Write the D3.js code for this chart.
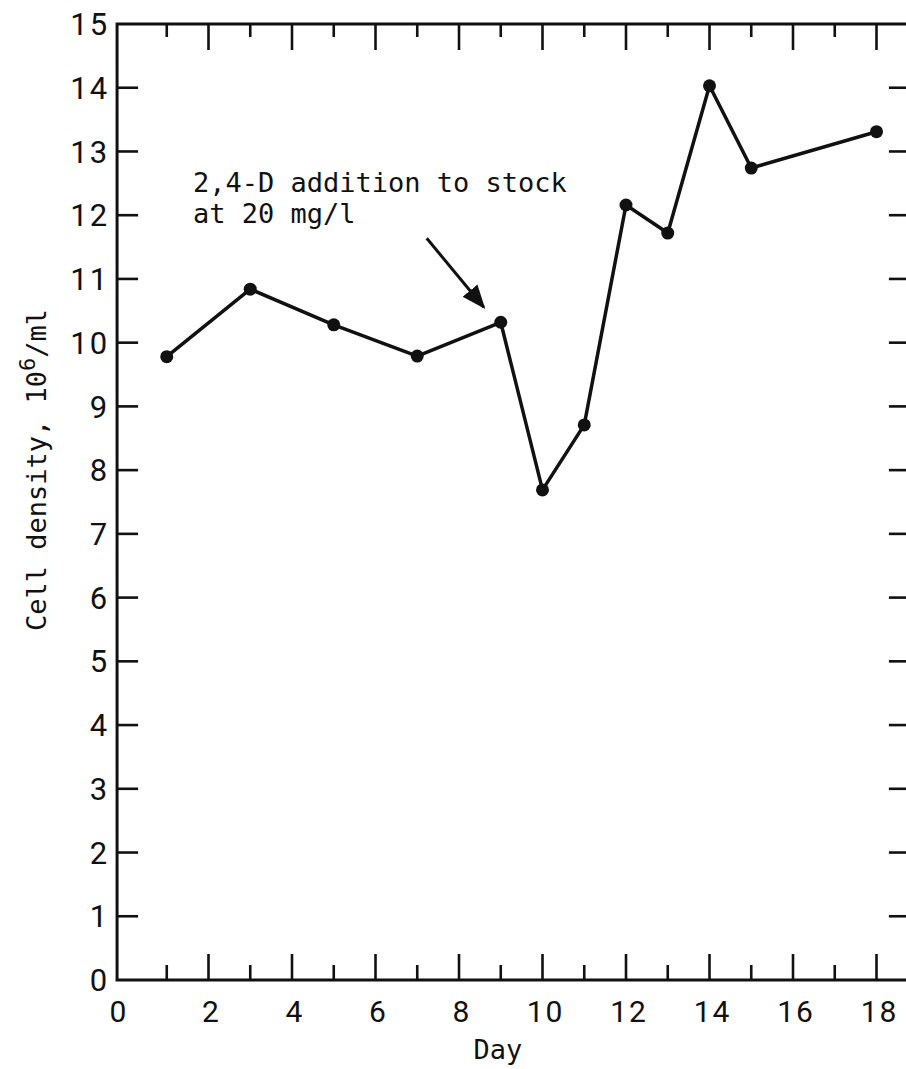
<!DOCTYPE html>
<html>
<head>
<meta charset="utf-8">
<script src="https://cdn.jsdelivr.net/npm/d3@7"></script>
<style>
  html, body { margin: 0; padding: 0; background: #fff; }
  svg { display: block; }
  .tick-label { font-family: Roboto, "Noto Sans", sans-serif; font-weight: 400; fill: #111; letter-spacing: 2px; }
  .mono { font-family: "DejaVu Sans Mono", "Liberation Mono", monospace; fill: #111; }
</style>
</head>
<body>
<script>
// data
const days = [1, 3, 5, 7, 9, 10, 11, 12, 13, 14, 15, 18]
const density = [9.78, 10.84, 10.28, 9.79, 10.32, 7.69, 8.71, 12.16, 11.72, 14.03, 12.74, 13.31]
const xTickValues = [0, 2, 4, 6, 8, 10, 12, 14, 16, 18]
const yTickValues = [0, 1, 2, 3, 4, 5, 6, 7, 8, 9, 10, 11, 12, 13, 14, 15]
const noteLines = ['2,4-D addition to stock', 'at 20 mg/l']
const noteDay = 9

const W = 906, H = 1069
const svg = d3.select('body').append('svg').attr('width', W).attr('height', H)

const x = d3.scaleLinear().domain([0, 19]).range([125, 125 + 19 * 41.75])
const y = d3.scaleLinear().domain([0, 15]).range([980, 24])

const frameL = x(-0.19), frameR = x(18.8), frameT = y(15), frameB = y(0)
const ink = '#111'

// frame
svg.append('path')
    .attr('d', `M${frameR},${frameT} H${frameL} V${frameB} H${frameR}`)
    .attr('fill', 'none')
    .attr('stroke', ink)
    .attr('stroke-width', 3)

// ticks: every day, long for even, short for odd
let dayTicks = d3.range(1, 19)
let g = svg.append('g').attr('stroke', ink).attr('stroke-width', 2.6)
g.selectAll('line.top')
  .data(dayTicks)
  .join('line')
    .attr('class', 'top')
    .attr('x1', d => x(d)).attr('x2', d => x(d))
    .attr('y1', frameT).attr('y2', d => frameT + (d % 2 === 0 ? 26 : 13))
g.selectAll('line.bottom')
  .data(dayTicks)
  .join('line')
    .attr('class', 'bottom')
    .attr('x1', d => x(d)).attr('x2', d => x(d))
    .attr('y1', frameB).attr('y2', d => frameB - (d % 2 === 0 ? 26 : 15))

let densTicks = d3.range(1, 15)
g.selectAll('line.left')
  .data(densTicks)
  .join('line')
    .attr('class', 'left')
    .attr('x1', frameL).attr('x2', frameL + 21)
    .attr('y1', d => y(d)).attr('y2', d => y(d))
g.selectAll('line.right')
  .data(densTicks)
  .join('line')
    .attr('class', 'right')
    .attr('x1', frameR - 21).attr('x2', frameR)
    .attr('y1', d => y(d)).attr('y2', d => y(d))

// tick labels
svg.append('g').selectAll('text')
  .data(yTickValues)
  .join('text')
    .classed('tick-label', true)
    .attr('x', frameL - 8)
    .attr('y', d => y(d))
    .attr('dy', '0.36em')
    .attr('text-anchor', 'end')
    .style('font-size', '31px')
    .text(d => d)

svg.append('g').selectAll('text')
  .data(xTickValues)
  .join('text')
    .classed('tick-label', true)
    .attr('x', d => x(d) + (d === 0 ? -6 : 3))
    .attr('y', frameB + 31)
    .attr('dy', '0.36em')
    .attr('text-anchor', 'middle')
    .style('font-size', '30px')
    .text(d => d)

// axis titles
svg.append('text')
    .classed('mono', true)
    .attr('x', 498)
    .attr('y', 1059)
    .attr('text-anchor', 'middle')
    .style('font-size', '27px')
    .text('Day')

let yTitle = svg.append('text')
    .classed('mono', true)
    .attr('transform', 'translate(46,470) rotate(-90)')
    .attr('text-anchor', 'middle')
    .style('font-size', '27px')
yTitle.append('tspan').text('Cell density, 10')
yTitle.append('tspan').attr('dy', -11).style('font-size', '22px').text('6')
yTitle.append('tspan').attr('dy', 11).text('/ml')

// data line and points
let pts = days.map((d, i) => [d, density[i]])
svg.append('path')
    .datum(pts)
    .attr('fill', 'none')
    .attr('stroke', ink)
    .attr('stroke-width', 3.5)
    .attr('stroke-linejoin', 'round')
    .attr('d', d3.line().x(d => x(d[0])).y(d => y(d[1])))

svg.append('g').selectAll('circle')
  .data(pts)
  .join('circle')
    .attr('cx', d => x(d[0]))
    .attr('cy', d => y(d[1]))
    .attr('r', 6.5)
    .attr('fill', ink)

// annotation with arrow pointing at the day-9 point
let note = svg.append('text')
    .classed('mono', true)
    .style('font-size', '27px')
note.selectAll('tspan')
  .data(noteLines)
  .join('tspan')
    .attr('x', 193)
    .attr('y', (d, i) => 192 + i * 31)
    .text(d => d)

let nx = x(noteDay), ny = y(density[days.indexOf(noteDay)])
svg.append('defs').append('marker')
    .attr('id', 'head')
    .attr('viewBox', '0 0 10 10')
    .attr('refX', 9).attr('refY', 5)
    .attr('markerWidth', 8).attr('markerHeight', 8)
    .attr('markerUnits', 'strokeWidth')
    .attr('orient', 'auto')
  .append('path')
    .attr('d', 'M0,1 L10,5 L0,9 Z')
    .attr('fill', ink)
svg.append('line')
    .attr('x1', nx - 74).attr('y1', ny - 84)
    .attr('x2', nx - 17).attr('y2', ny - 15)
    .attr('stroke', ink)
    .attr('stroke-width', 3)
    .attr('marker-end', 'url(#head)')
</script>
</body>
</html>
